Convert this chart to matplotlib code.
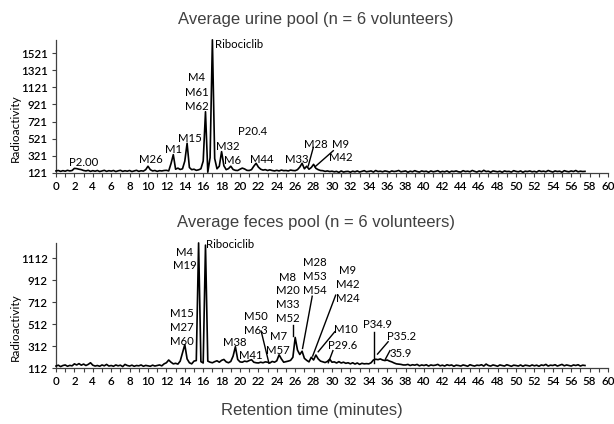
import numpy as np
import matplotlib
matplotlib.use("Agg")
import matplotlib.pyplot as plt

# ---------------- data ----------------
time_step = 0.25  # minutes between sampled points

urine = [
    145, 150, 140, 148, 142, 152, 145, 150,
    175, 172, 165, 160, 150, 145, 152, 140,
    148, 142, 150, 138, 145, 152, 140, 148,
    143, 150, 138, 146, 152, 140, 147, 142,
    150, 138, 145, 152, 140, 147, 143, 160,
    200, 160, 145, 150, 140, 148, 145, 150,
    152, 145, 230, 335, 165, 178, 162, 170,
    260, 468, 185, 160, 165, 152, 158, 170,
    260, 836, 130, 300, 1675, 290, 170, 200,
    370, 205, 160, 172, 200, 162, 152, 150,
    165, 178, 168, 152, 150, 160, 200, 234,
    190, 165, 155, 160, 150, 158, 150, 145,
    152, 145, 155, 148, 150, 145, 155, 150,
    148, 160, 190, 234, 170, 200, 165, 185,
    222, 175, 160, 150, 148, 140, 145, 138,
    142, 135, 140, 128, 145, 132, 138, 140,
    130, 142, 135, 145, 132, 140, 148, 135,
    140, 145, 132, 150, 138, 142, 135, 145,
    140, 132, 145, 138, 142, 150, 135, 140,
    145, 130, 142, 135, 148, 138, 132, 145,
    138, 142, 130, 145, 135, 140, 148, 132,
    140, 135, 145, 130, 142, 138, 145, 135,
    132, 148, 138, 142, 135, 150, 140, 132,
    145, 135, 152, 138, 142, 130, 145, 140,
    135, 142, 130, 145, 138, 140, 132, 148,
    140, 135, 145, 130, 142, 138, 145, 135,
    140, 132, 148, 138, 142, 135, 150, 140,
    132, 145, 138, 142, 130, 148, 140, 135,
    145, 138, 150, 135, 142, 138, 140,
]

feces = [
    130, 138, 125, 135, 140, 128, 136, 132,
    150, 140, 152, 138, 148, 135, 145, 160,
    138, 130, 135, 128, 140, 132, 145, 130,
    135, 128, 140, 132, 138, 125, 145, 135,
    130, 138, 128, 135, 132, 140, 128, 136,
    132, 128, 138, 130, 135, 140, 132, 150,
    160, 185, 165, 150, 155, 148, 175, 250,
    325, 195, 160, 150, 175, 180, 1250, 170,
    158, 1230, 175, 165, 160, 170, 178, 165,
    182, 190, 168, 160, 172, 220, 306, 190,
    168, 165, 175, 170, 180, 188, 165, 160,
    158, 165, 160, 168, 165, 158, 172, 165,
    178, 232, 195, 165, 170, 175, 182, 210,
    390, 275, 235, 265, 200, 182, 168, 210,
    185, 230, 195, 175, 168, 162, 172, 192,
    165, 168, 158, 170, 158, 165, 155, 160,
    150, 160, 148, 158, 145, 155, 150, 152,
    150, 160, 185, 192, 188, 195, 185, 180,
    185, 175, 168, 158, 150, 148, 145, 140,
    140, 145, 135, 142, 138, 145, 132, 140,
    135, 142, 130, 140, 135, 138, 145, 132,
    138, 130, 142, 135, 140, 128, 138, 135,
    130, 140, 135, 128, 142, 135, 130, 138,
    135, 142, 130, 148, 135, 130, 140, 135,
    128, 140, 135, 130, 142, 135, 128, 138,
    135, 130, 140, 128, 138, 135, 130, 140,
    132, 138, 128, 140, 135, 145, 130, 138,
    135, 142, 130, 138, 145, 132, 140, 135,
    130, 140, 135, 142, 130, 138, 135,
]

urine_yticks = [121, 321, 521, 721, 921, 1121, 1321, 1521]
feces_yticks = [112, 312, 512, 712, 912, 1112]
x_ticks = list(range(0, 61, 2))

# peak labels: (text, time, value)
urine_labels = [
    ("P2.00", 3.0, 249), ("M26", 10.3, 284), ("M1", 12.75, 397),
    ("M15", 14.6, 526), ("M4", 15.3, 1233), ("M61", 15.3, 1058),
    ("M62", 15.3, 895), ("P20.4", 21.4, 611), ("M32", 18.7, 436),
    ("M6", 19.15, 261), ("M44", 22.4, 280), ("M33", 26.2, 280),
    ("M28", 28.2, 459), ("M9", 30.95, 459), ("M42", 30.95, 304),
]
urine_main = ("Ribociclib", 17.3, 1626)
urine_leaders = [((27.97, 420), (27.42, 203)), ((30.14, 381), (28.15, 193))]

feces_labels = [
    ("M4", 14.0, 1164), ("M19", 14.05, 1042), ("M15", 13.7, 609),
    ("M27", 13.7, 482), ("M60", 13.7, 355), ("M38", 19.45, 342),
    ("M41", 21.2, 230), ("M50", 21.7, 579), ("M63", 21.7, 457),
    ("M7", 24.15, 397), ("M57", 24.15, 267), ("M8", 25.2, 936),
    ("M20", 25.2, 815), ("M33", 25.2, 687), ("M52", 25.2, 564),
    ("M28", 28.1, 1069), ("M53", 28.1, 945), ("M54", 28.1, 815),
    ("M9", 31.7, 996), ("M42", 31.7, 872), ("M24", 31.7, 746),
    ("M10", 31.5, 467), ("P29.6", 31.2, 314), ("P34.9", 34.9, 512),
    ("P35.2", 37.6, 397), ("35.9", 37.5, 245),
]
feces_main = ("Ribociclib", 16.35, 1237)
feces_leaders = [
    ((22.3, 448), (23.15, 155)), ((25.75, 503), (25.75, 400)),
    ((27.85, 765), (26.8, 290)), ((30.4, 775), (27.9, 221)),
    ((30.3, 442), (28.5, 260)), ((30.1, 270), (29.6, 160)),
    ((34.55, 442), (34.55, 160)), ((36.1, 351), (34.95, 239)),
    ((36.3, 270), (35.8, 192)),
]

# ---------------- plotting ----------------
LABEL_FONT = "Lato"
TITLE_FONT = "Liberation Sans"

fig = plt.figure(figsize=(6.14, 4.24), dpi=100)
ax_top = fig.add_axes([0.0912, 0.592, 0.899, 0.314])
ax_bot = fig.add_axes([0.0912, 0.132, 0.899, 0.295])


def draw(ax, values, yticks, ylim, labels, main, leaders):
    t = np.arange(len(values)) * time_step
    ax.plot(t, values, color="black", lw=1.2, clip_on=False, zorder=3)
    ax.set_xlim(0, 60)
    ax.set_ylim(*ylim)
    ax.set_xticks(x_ticks)
    ax.set_xticks(range(0, 61), minor=True)
    ax.set_yticks(yticks)
    for s in ("top", "right"):
        ax.spines[s].set_visible(False)
    for s in ("left", "bottom"):
        ax.spines[s].set_color("#404040")
        ax.spines[s].set_linewidth(0.9)
    ax.tick_params(axis="both", which="both", direction="out", length=3,
                   width=0.8, color="#404040", labelsize=8.3, pad=3,
                   labelcolor="black")
    for lab in ax.get_xticklabels() + ax.get_yticklabels():
        lab.set_fontfamily(LABEL_FONT)
        lab.set_fontweight("semibold")
    for txt, x, y in labels:
        ax.text(x, y, txt, ha="center", va="center", fontsize=8.2,
                family=LABEL_FONT, color="black", zorder=4)
    ax.text(main[1], main[2], main[0], ha="left", va="center", fontsize=8.2,
            family=LABEL_FONT, color="black", zorder=4)
    for (x0, y0), (x1, y1) in leaders:
        ax.plot([x0, x1], [y0, y1], color="black", lw=1.0, zorder=4)


draw(ax_top, urine, urine_yticks, (121, 1675), urine_labels, urine_main,
     urine_leaders)
draw(ax_bot, feces, feces_yticks, (112, 1250), feces_labels, feces_main,
     feces_leaders)

fig.text(0.514, 0.953, "Average urine pool (n = 6 volunteers)", ha="center",
         va="center", fontsize=12, family=TITLE_FONT, color="#404040")
fig.text(0.514, 0.475, "Average feces pool (n = 6 volunteers)", ha="center",
         va="center", fontsize=12, family=TITLE_FONT, color="#404040")
fig.text(0.508, 0.033, "Retention time (minutes)", ha="center", va="center",
         fontsize=12, family=TITLE_FONT, color="#404040")
fig.text(0.025, 0.698, "Radioactivity", rotation=90, ha="center", va="center",
         fontsize=8.5, family=LABEL_FONT, color="black")
fig.text(0.025, 0.229, "Radioactivity", rotation=90, ha="center", va="center",
         fontsize=8.5, family=LABEL_FONT, color="black")

fig.savefig("out.png", dpi=100)
